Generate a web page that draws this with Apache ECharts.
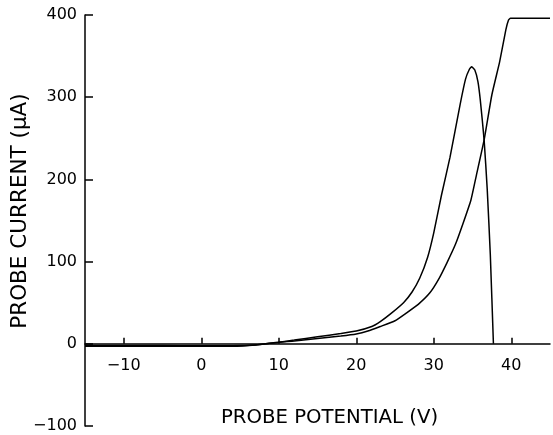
<!DOCTYPE html>
<html>
<head>
<meta charset="utf-8">
<script src="https://cdn.jsdelivr.net/npm/echarts@6/dist/echarts.min.js"></script>
<style>
  html, body { margin: 0; padding: 0; background: #fff; }
  #chart { width: 553px; height: 435px; }
</style>
</head>
<body>
<div id="chart"></div>
<script>
// Probe characteristics: current (µA) versus probe potential (V)
const xTicks = [-10, 0, 10, 20, 30, 40];
const yTicks = [-100, 0, 100, 200, 300, 400];

// Curve with a peak that collapses to zero near 37.7 V
const peakVolts = [-15, -10, -5, 0, 4, 7, 10, 12, 15, 18, 20, 22, 23.1, 24.5, 26.1, 27.2, 28.2, 29.2, 30.0, 31.0, 32.1, 33.4, 34.1, 34.6, 34.9, 35.3, 35.7, 36.0, 36.5, 36.9, 37.3, 37.7];
const peakCurrent = [-2, -2, -2, -2.5, -2.5, -1.5, 2, 4.5, 8.5, 12.5, 15.5, 21, 27, 37, 50, 63, 80, 105, 135, 181, 227, 291, 322, 334, 337, 333, 319, 297, 248, 188, 108, 0];

// Curve that rises steadily and saturates near 396 µA
const riseVolts = [-15, -10, -5, 0, 4, 7, 10, 12, 15, 18, 20, 21.5, 23.1, 25, 26.5, 28, 29.5, 30.6, 31.7, 32.8, 33.8, 34.8, 35.5, 36.5, 37.5, 38.5, 39.3, 39.65, 39.9, 45];
const riseCurrent = [-3, -3, -3, -3, -3, -1.5, 2, 3.5, 6.5, 9.5, 12, 15.5, 21, 28, 37.7, 48, 62, 78, 98.5, 121, 147, 175, 205, 248, 303, 343, 382, 394, 396, 396];

const xTitle = 'PROBE POTENTIAL (V)';
const yTitle = 'PROBE CURRENT (\u03bcA)';

const pairs = (xs, ys) => xs.map((x, i) => [x, ys[i]]);
const minus = v => String(v).replace('-', '\u2212');
const font = 'DejaVu Sans';

// Plot area: the current axis spans -100..400 over the grid height,
// and the potential axis is drawn along the zero-current line.
const gridTop = 15, gridBottom = 9, chartHeight = 435;
const yMin = -100, yMax = 400;
const zeroLift = (chartHeight - gridTop - gridBottom) * (0 - yMin) / (yMax - yMin);

const chart = echarts.init(document.getElementById('chart'), null, { renderer: 'canvas' });
chart.setOption({
  animation: false,
  backgroundColor: '#fff',
  grid: { left: 85, right: 3, top: gridTop, bottom: gridBottom, containLabel: false, outerBoundsMode: 'none' },
  // Vertical title of the current axis, reading bottom to top
  graphic: [{
    type: 'text',
    x: 20.5,
    y: 211,
    rotation: Math.PI / 2,
    silent: true,
    style: {
      text: yTitle,
      fill: '#000',
      fontFamily: font,
      fontSize: 21.5,
      align: 'center',
      verticalAlign: 'middle'
    }
  }],
  xAxis: {
    type: 'value',
    min: -15,
    max: 45,
    position: 'bottom',
    offset: -zeroLift,
    name: xTitle,
    nameLocation: 'middle',
    nameGap: 64,
    nameTextStyle: { color: '#000', fontFamily: font, fontSize: 19.7, padding: [0, 0, 0, 24] },
    axisLine: { onZero: false, lineStyle: { color: '#000', width: 1.5 } },
    axisTick: { inside: true, length: 6, customValues: xTicks, lineStyle: { color: '#000', width: 1.5 } },
    axisLabel: { customValues: xTicks, margin: 14, color: '#000', fontFamily: font, fontSize: 16, formatter: minus },
    splitLine: { show: false }
  },
  yAxis: {
    type: 'value',
    min: yMin,
    max: yMax,
    interval: 100,
    axisLine: { show: true, onZero: false, lineStyle: { color: '#000', width: 1.5 } },
    axisTick: { show: true, inside: true, length: 8, lineStyle: { color: '#000', width: 1.5 } },
    axisLabel: { margin: 8, color: '#000', fontFamily: font, fontSize: 16, formatter: minus },
    splitLine: { show: false }
  },
  series: [
    {
      type: 'line',
      data: pairs(peakVolts, peakCurrent),
      showSymbol: false,
      smooth: 0.15,
      lineStyle: { color: '#000', width: 1.5 }
    },
    {
      type: 'line',
      data: pairs(riseVolts, riseCurrent),
      showSymbol: false,
      smooth: 0.15,
      lineStyle: { color: '#000', width: 1.5 }
    }
  ]
});
</script>
</body>
</html>
